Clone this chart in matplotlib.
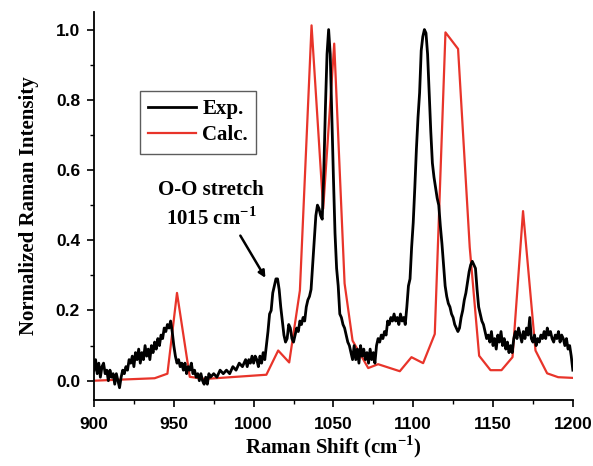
import matplotlib
matplotlib.use('Agg')
import matplotlib.pyplot as plt
from matplotlib.ticker import MultipleLocator, AutoMinorLocator

exp_x = [900, 901, 902, 903, 904, 905, 906, 907, 908, 909, 910, 911, 912, 913, 914, 915, 916, 917, 918, 919,
         920, 921, 922, 923, 924, 925, 926, 927, 928, 929, 930, 931, 932, 933, 934, 935, 936, 937, 938, 939,
         940, 941, 942, 943, 944, 945, 946, 947, 948, 949, 950, 951, 952, 953, 954, 955, 956, 957, 958, 959,
         960, 961, 962, 963, 964, 965, 966, 967, 968, 969, 970, 971, 972, 973, 975, 977, 979, 981, 983, 985,
         987, 989, 991, 993, 995, 996, 997, 998, 999, 1000, 1001, 1002, 1003, 1004, 1005, 1006, 1007, 1008, 1009, 1010,
         1011, 1012, 1013, 1014, 1015, 1016, 1017, 1018, 1019, 1020, 1021, 1022, 1023, 1024, 1025, 1026, 1027, 1028, 1029, 1030,
         1031, 1032, 1033, 1034, 1035, 1036, 1037, 1038, 1039, 1040, 1041, 1042, 1043, 1044, 1045, 1046, 1047, 1048, 1049, 1050,
         1051, 1052, 1053, 1054, 1055, 1056, 1057, 1058, 1059, 1060, 1061, 1062, 1063, 1064, 1065, 1066, 1067, 1068, 1069, 1070,
         1071, 1072, 1073, 1074, 1075, 1076, 1077, 1078, 1079, 1080, 1081, 1082, 1083, 1084, 1085, 1086, 1087, 1088, 1089, 1090,
         1091, 1092, 1093, 1094, 1095, 1096, 1097, 1098, 1099, 1100, 1101, 1102, 1103, 1104, 1105, 1106, 1107, 1108, 1109, 1110,
         1111, 1112, 1113, 1114, 1115, 1116, 1117, 1118, 1119, 1120, 1121, 1122, 1123, 1124, 1125, 1126, 1127, 1128, 1129, 1130,
         1131, 1132, 1133, 1134, 1135, 1136, 1137, 1138, 1139, 1140, 1141, 1142, 1143, 1144, 1145, 1146, 1147, 1148, 1149, 1150,
         1151, 1152, 1153, 1154, 1155, 1156, 1157, 1158, 1159, 1160, 1161, 1162, 1163, 1164, 1165, 1166, 1167, 1168, 1169, 1170,
         1171, 1172, 1173, 1174, 1175, 1176, 1177, 1178, 1179, 1180, 1181, 1182, 1183, 1184, 1185, 1186, 1187, 1188, 1189, 1190,
         1191, 1192, 1193, 1194, 1195, 1196, 1197, 1198, 1199, 1200]
exp_y = [0.03, 0.06, 0.02, 0.05, 0.01, 0.04, 0.05, 0.02, 0.03, 0.00, 0.03, 0.01, 0.02, -0.01, 0.02, 0.00, -0.02, 0.01, 0.03, 0.02,
         0.04, 0.03, 0.06, 0.05, 0.07, 0.04, 0.08, 0.06, 0.09, 0.05, 0.08, 0.06, 0.10, 0.07, 0.09, 0.06, 0.10, 0.08, 0.11, 0.09,
         0.12, 0.10, 0.13, 0.12, 0.15, 0.14, 0.16, 0.15, 0.17, 0.14, 0.10, 0.07, 0.05, 0.06, 0.04, 0.05, 0.03, 0.05, 0.02, 0.04,
         0.03, 0.05, 0.02, 0.03, 0.01, 0.02, 0.00, 0.02, 0.00, -0.01, 0.01, -0.01, 0.02, 0.01, 0.02, 0.01, 0.03, 0.02, 0.03, 0.02,
         0.04, 0.03, 0.05, 0.04, 0.06, 0.04, 0.06, 0.05, 0.07, 0.05, 0.07, 0.06, 0.04, 0.07, 0.05, 0.08, 0.06, 0.10, 0.14, 0.19,
         0.20, 0.25, 0.27, 0.29, 0.29, 0.26, 0.21, 0.17, 0.13, 0.11, 0.12, 0.16, 0.15, 0.12, 0.11, 0.13, 0.15, 0.14, 0.17, 0.16,
         0.18, 0.17, 0.21, 0.23, 0.24, 0.26, 0.33, 0.40, 0.47, 0.50, 0.49, 0.47, 0.46, 0.60, 0.78, 0.93, 1.00, 0.93, 0.75, 0.58,
         0.42, 0.32, 0.27, 0.19, 0.18, 0.16, 0.15, 0.13, 0.11, 0.10, 0.08, 0.06, 0.10, 0.06, 0.09, 0.05, 0.10, 0.07, 0.09, 0.06,
         0.08, 0.05, 0.09, 0.06, 0.08, 0.05, 0.10, 0.12, 0.11, 0.13, 0.12, 0.14, 0.13, 0.17, 0.16, 0.18, 0.17, 0.19, 0.17, 0.18,
         0.16, 0.19, 0.17, 0.18, 0.16, 0.21, 0.27, 0.29, 0.38, 0.45, 0.55, 0.66, 0.75, 0.82, 0.94, 0.98, 1.00, 0.99, 0.93, 0.82,
         0.71, 0.62, 0.58, 0.55, 0.52, 0.50, 0.44, 0.39, 0.33, 0.27, 0.24, 0.22, 0.21, 0.19, 0.18, 0.16, 0.15, 0.14, 0.15, 0.18,
         0.20, 0.23, 0.25, 0.28, 0.31, 0.33, 0.34, 0.33, 0.32, 0.26, 0.21, 0.19, 0.17, 0.16, 0.14, 0.12, 0.13, 0.11, 0.14, 0.10,
         0.12, 0.09, 0.13, 0.11, 0.14, 0.10, 0.12, 0.09, 0.11, 0.08, 0.10, 0.08, 0.12, 0.14, 0.12, 0.15, 0.13, 0.11, 0.14, 0.12,
         0.15, 0.13, 0.18, 0.12, 0.11, 0.13, 0.10, 0.12, 0.11, 0.13, 0.12, 0.14, 0.12, 0.15, 0.13, 0.14, 0.12, 0.11, 0.13, 0.12,
         0.14, 0.11, 0.13, 0.12, 0.10, 0.12, 0.09, 0.10, 0.07, 0.03]

# calculated spectrum (vertices of the red polyline)
calc_x = [900, 938, 946, 952, 960, 969.5, 1008, 1015.4, 1022.3, 1029, 1036.3, 1043.6, 1050.5, 1057, 1062,
          1071.8, 1078, 1091.6, 1098.9, 1106.2, 1113.5, 1120.2, 1128.1, 1135.4, 1141.3, 1148.4, 1155.3,
          1162.2, 1168.8, 1176.6, 1183.9, 1190.8, 1200]
calc_y = [0.0, 0.007, 0.02, 0.25, 0.011, 0.005, 0.017, 0.086, 0.052, 0.257, 1.012, 0.49, 0.96, 0.277, 0.114,
          0.036, 0.047, 0.027, 0.067, 0.05, 0.133, 0.992, 0.945, 0.38, 0.071, 0.03, 0.03,
          0.067, 0.483, 0.086, 0.021, 0.01, 0.008]

serif = ['Liberation Serif', 'DejaVu Serif']
sans = ['Liberation Sans', 'DejaVu Sans']

fig = plt.figure(figsize=(5.93, 4.66), dpi=100)
ax = fig.add_axes([0.1585, 0.1416, 0.8075, 0.8326])

ax.plot(exp_x, exp_y, color='black', lw=2.0, label='Exp.', zorder=3)
ax.plot(calc_x, calc_y, color='#e8342a', lw=1.6, label='Calc.', zorder=2)

ax.set_xlim(900, 1200)
ax.set_ylim(-0.055, 1.05)
ax.xaxis.set_major_locator(MultipleLocator(50))
ax.xaxis.set_minor_locator(AutoMinorLocator(2))
ax.yaxis.set_major_locator(MultipleLocator(0.2))
ax.yaxis.set_minor_locator(AutoMinorLocator(2))
ax.yaxis.set_major_formatter(matplotlib.ticker.FormatStrFormatter('%.1f'))

for s in ['top', 'right']:
    ax.spines[s].set_visible(False)
for s in ['left', 'bottom']:
    ax.spines[s].set_linewidth(1.3)
ax.tick_params(which='major', direction='out', length=5, width=1.2)
ax.tick_params(which='minor', direction='out', length=3, width=1.0)
ax.tick_params(axis='x', which='major', pad=7)
ax.tick_params(axis='y', which='major', pad=5)
for lab in ax.get_xticklabels() + ax.get_yticklabels():
    lab.set_family(sans)
    lab.set_fontweight('bold')
    lab.set_fontsize(12.5)

ax.set_xlabel('Raman Shift (cm$^{\\mathregular{-1}}$)', family=serif, fontweight='bold', fontsize=15, labelpad=1)
ax.set_ylabel('Normalized Raman Intensity', family=serif, fontweight='bold', fontsize=15, labelpad=12)

leg = ax.legend(loc='upper left', bbox_to_anchor=(0.096, 0.797), frameon=True, fancybox=False,
                prop={'family': serif, 'weight': 'bold', 'size': 15}, handlelength=2.3,
                handletextpad=0.3, borderpad=0.4, labelspacing=0.3, borderaxespad=0)
leg.get_frame().set_edgecolor('#333333')
leg.get_frame().set_linewidth(1.0)

ax.annotate('', xy=(1008.3, 0.286), xytext=(990.8, 0.42),
            arrowprops=dict(arrowstyle='-|>', color='black', lw=1.8, mutation_scale=10))
ax.text(973.3, 0.543, 'O-O stretch', ha='center', va='center', family=serif, fontweight='bold', fontsize=15)
ax.text(973.3, 0.463, '1015 cm$^{\\mathregular{-1}}$', ha='center', va='center', family=serif,
        fontweight='bold', fontsize=15)

fig.savefig('out.png', dpi=100)
